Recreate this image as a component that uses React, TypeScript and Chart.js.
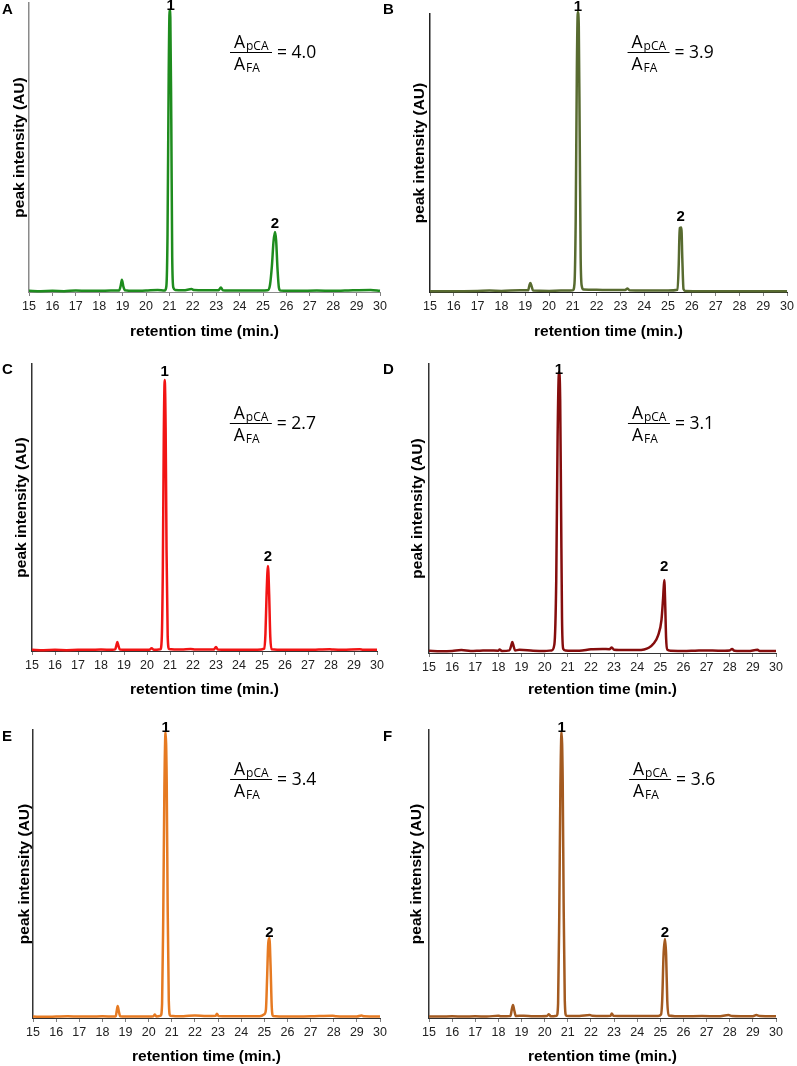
import React, { useEffect, useRef } from "react";
import { Chart, registerables } from "chart.js";

Chart.register(...registerables);

// ---------- data ----------
const retentionTicks = [15, 16, 17, 18, 19, 20, 21, 22, 23, 24, 25, 26, 27, 28, 29, 30];
const panelLetters = ["A", "B", "C", "D", "E", "F"];
const ratioValues = ["4.0", "3.9", "2.7", "3.1", "3.4", "3.6"];

type Pt = [number, number];

const traceA: Pt[] = [
  [15, 0.4], [15.5, 0.3], [16, 0.4], [16.5, 0.3], [17, 0.5], [17.5, 0.4], [18, 0.4], [18.5, 0.5],
  [18.85, 0.5], [18.92, 2.2], [18.97, 4.2], [19.03, 2.0], [19.1, 0.6], [19.5, 0.4], [20, 0.5],
  [20.5, 0.7], [20.8, 0.5], [20.87, 2], [20.92, 20], [20.97, 75], [21.01, 97.6], [21.04, 95],
  [21.08, 60], [21.12, 12], [21.17, 1.5], [21.25, 0.7], [21.6, 0.6], [21.95, 1.0], [22.05, 0.7],
  [22.5, 0.6], [23.1, 0.6], [23.2, 1.6], [23.28, 0.6], [23.8, 0.5], [24.5, 0.5], [25.2, 0.6],
  [25.3, 2.5], [25.38, 9], [25.45, 17.5], [25.51, 20.8], [25.56, 18], [25.62, 8], [25.68, 1.5],
  [25.75, 0.5], [26.5, 0.4], [27.3, 0.5], [28, 0.4], [28.5, 0.5], [29.6, 0.7], [30, 0.4],
];

const traceB: Pt[] = [
  [15, 0.3], [16, 0.3], [17, 0.4], [17.5, 0.5], [18, 0.4], [18.8, 0.6], [19.12, 0.6], [19.18, 2.5],
  [19.22, 3.2], [19.27, 2.0], [19.33, 0.5], [20, 0.4], [20.5, 0.5], [21.0, 0.6], [21.07, 3],
  [21.12, 25], [21.17, 80], [21.21, 100.7], [21.25, 96], [21.29, 55], [21.33, 12], [21.38, 2],
  [21.45, 0.9], [22, 0.8], [22.5, 0.7], [23.2, 0.7], [23.3, 1.3], [23.38, 0.6], [24, 0.5],
  [25, 0.5], [25.4, 0.8], [25.45, 10], [25.49, 23], [25.56, 23.2], [25.6, 12], [25.65, 1],
  [25.72, 0.4], [26.5, 0.3], [27.5, 0.3], [28.5, 0.3], [29.5, 0.3], [30, 0.3],
];

const traceC: Pt[] = [
  [15, 0.4], [15.5, 0.3], [16, 0.4], [16.5, 0.3], [17, 0.4], [17.5, 0.4], [18, 0.5], [18.5, 0.4],
  [18.62, 0.6], [18.67, 2], [18.71, 3.1], [18.76, 1.8], [18.82, 0.5], [19.5, 0.4], [20.1, 0.4],
  [20.2, 1.0], [20.3, 0.4], [20.58, 0.6], [20.64, 4], [20.69, 30], [20.73, 75], [20.77, 94.4],
  [20.81, 78], [20.85, 35], [20.9, 5], [20.96, 0.7], [21.5, 0.5], [21.9, 0.7], [22.1, 0.5],
  [22.9, 0.5], [23.0, 1.4], [23.08, 0.5], [24, 0.4], [24.8, 0.4], [25.1, 0.8], [25.15, 6],
  [25.2, 20], [25.26, 29.6], [25.31, 20], [25.36, 5], [25.42, 0.6], [26, 0.4], [27, 0.4],
  [27.95, 0.6], [28.1, 0.5], [28.5, 0.4], [29.25, 0.6], [29.4, 0.4], [30, 0.4],
];

const traceD: Pt[] = [
  [15, 0.8], [15.5, 0.6], [16, 0.7], [16.4, 1.0], [16.8, 0.7], [17.2, 0.8], [17.6, 0.9], [18, 0.8],
  [18.05, 1.2], [18.15, 0.7], [18.48, 0.9], [18.55, 2.5], [18.6, 3.8], [18.66, 2.3], [18.72, 0.9],
  [18.9, 1.1], [19.5, 0.8], [20, 0.7], [20.3, 0.9], [20.42, 3], [20.5, 25], [20.56, 75],
  [20.62, 97.2], [20.67, 88], [20.71, 50], [20.75, 12], [20.8, 1.5], [20.9, 0.9], [21.5, 0.8],
  [22, 1.3], [22.5, 1.4], [22.8, 1.3], [22.9, 1.9], [23.0, 1.1], [23.5, 1.0], [24, 1.0],
  [24.3, 1.2], [24.5, 1.8], [24.7, 3.2], [24.9, 6], [25.05, 11.5], [25.12, 19], [25.17, 25.3],
  [25.21, 17], [25.25, 5], [25.3, 1.2], [25.45, 0.8], [26, 0.7], [26.5, 0.8], [27, 0.9],
  [27.5, 0.8], [28.0, 0.9], [28.1, 1.4], [28.2, 0.8], [28.8, 0.7], [29.2, 1.1], [29.3, 0.7], [30, 0.7],
];

const traceE: Pt[] = [
  [15, 0.5], [15.5, 0.4], [16, 0.5], [16.5, 0.6], [17, 0.5], [17.5, 0.5], [18, 0.6], [18.5, 0.5],
  [18.58, 0.7], [18.62, 2.5], [18.66, 4.2], [18.71, 2.3], [18.77, 0.6], [19.3, 0.5], [20, 0.5],
  [20.2, 0.6], [20.27, 1.2], [20.33, 0.5], [20.52, 0.8], [20.58, 5], [20.63, 35], [20.68, 80],
  [20.73, 99.3], [20.78, 82], [20.82, 40], [20.87, 6], [20.93, 0.8], [21.5, 0.6], [22, 0.9],
  [22.5, 0.7], [22.9, 0.8], [22.95, 1.5], [23.02, 0.7], [24, 0.6], [24.8, 0.6], [25.0, 1.3],
  [25.07, 3], [25.12, 14], [25.17, 26], [25.22, 27.8], [25.27, 18], [25.32, 4], [25.38, 0.7],
  [26, 0.5], [27, 0.6], [27.95, 0.8], [28.1, 0.6], [29, 0.5], [29.2, 0.9], [29.3, 0.6], [30, 0.5],
];

const traceF: Pt[] = [
  [15, 0.5], [15.5, 0.5], [16, 0.6], [16.5, 0.5], [17, 0.6], [17.5, 0.5], [18, 0.8], [18.1, 0.6],
  [18.52, 0.7], [18.58, 3], [18.63, 4.5], [18.69, 2.5], [18.75, 0.7], [19.1, 0.8], [19.5, 0.6],
  [20.1, 0.7], [20.18, 1.3], [20.26, 0.6], [20.52, 0.8], [20.58, 5], [20.63, 35], [20.68, 80],
  [20.73, 99.3], [20.78, 82], [20.82, 40], [20.87, 6], [20.93, 0.8], [21.5, 0.7], [21.95, 1.0],
  [22.05, 0.8], [22.5, 0.7], [22.85, 0.8], [22.9, 1.6], [22.97, 0.8], [24, 0.7], [24.9, 0.7],
  [25.03, 1.2], [25.08, 6], [25.14, 22], [25.2, 27.4], [25.25, 22], [25.3, 6], [25.36, 0.9],
  [26, 0.6], [26.8, 0.7], [27.5, 0.6], [27.95, 1.0], [28.1, 0.7], [29, 0.6], [29.15, 1.0],
  [29.3, 0.7], [30, 0.6],
];

const traces = [traceA, traceB, traceC, traceD, traceE, traceF];

// peak label anchors (retention time, intensity) for peaks "1" and "2"
const peak1X = [21.05, 21.21, 20.77, 20.62, 20.73, 20.73];
const peak1LabelY = [99, 102.5, 97.2, 97.9, 100.7, 100.7];
const peak2X = [25.51, 25.53, 25.26, 25.17, 25.22, 25.2];
const peak2LabelY = [23.5, 27, 32.8, 29.8, 29.5, 29.5];

// ratio annotation anchor (fraction bar left end)
const fracX = [23.59, 23.3, 23.6, 23.6, 23.52, 23.65];
const fracY = [83, 86.3, 79.4, 79.6, 83, 83];

// ---------- styles / layout ----------
const lineColors = ["#1e8c1e", "#586b30", "#f21414", "#850d0d", "#e67a22", "#a35a20"];
const axisColors = ["#8a8a8a", "#222", "#333", "#333", "#333", "#333"];

interface Geo {
  left: number; top: number; w: number; h: number;
  padTop: number; padRight: number; yW: number; xH: number;
  yTitlePad: number; xTitlePad: number; letterX: number; letterY: number;
}

const geos: Geo[] = [
  { left: 0, top: 0, w: 395, h: 345, padTop: 3, padRight: 15, yW: 29, xH: 53, yTitlePad: 10.7, xTitlePad: 3.7, letterX: 2, letterY: 10 },
  { left: 380, top: 0, w: 417, h: 345, padTop: 14, padRight: 7, yW: 50, xH: 53, yTitlePad: 30.7, xTitlePad: 3.7, letterX: 3, letterY: 10 },
  { left: 0, top: 345, w: 395, h: 360, padTop: 19, padRight: 18, yW: 32, xH: 54, yTitlePad: 12.7, xTitlePad: 5.7, letterX: 2, letterY: 25 },
  { left: 380, top: 345, w: 417, h: 360, padTop: 19, padRight: 21, yW: 49, xH: 52, yTitlePad: 28.7, xTitlePad: 5.7, letterX: 3, letterY: 25 },
  { left: 0, top: 705, w: 395, h: 361, padTop: 25, padRight: 15, yW: 33, xH: 48, yTitlePad: 15.7, xTitlePad: 0, letterX: 2, letterY: 32 },
  { left: 380, top: 705, w: 417, h: 361, padTop: 25, padRight: 21, yW: 49, xH: 48, yTitlePad: 27.7, xTitlePad: 0, letterX: 3, letterY: 32 },
];

const SANS = "Arial, 'Liberation Sans', sans-serif";
const FRAC = "'Open Sans', 'DejaVu Sans', sans-serif";

const annotPlugin = {
  id: "annot",
  afterDatasetsDraw(chart: any, _args: any, opts: any) {
    const { ctx } = chart;
    const x = chart.scales.x;
    const y = chart.scales.y;
    ctx.save();
    ctx.fillStyle = "#000";
    // panel letter
    ctx.font = `bold 15px ${SANS}`;
    ctx.textAlign = "left";
    ctx.textBaseline = "middle";
    ctx.fillText(opts.letter, opts.letterX, opts.letterY);
    // peak numbers
    ctx.font = `bold 15px ${SANS}`;
    ctx.textAlign = "center";
    ctx.fillText("1", x.getPixelForValue(opts.p1x), y.getPixelForValue(opts.p1y));
    ctx.fillText("2", x.getPixelForValue(opts.p2x), y.getPixelForValue(opts.p2y));
    // ratio fraction
    const px = x.getPixelForValue(opts.fx);
    const py = y.getPixelForValue(opts.fy);
    ctx.textAlign = "left";
    ctx.textBaseline = "alphabetic";
    ctx.font = `17.5px ${FRAC}`;
    ctx.fillText("A", px + 4, py - 4);
    ctx.fillText("A", px + 4, py + 18);
    ctx.font = `12px ${FRAC}`;
    ctx.fillText("pCA", px + 16, py - 2);
    ctx.fillText("FA", px + 16, py + 20);
    ctx.strokeStyle = "#000";
    ctx.lineWidth = 1;
    ctx.beginPath();
    ctx.moveTo(px, Math.round(py) + 0.5);
    ctx.lineTo(px + 42, Math.round(py) + 0.5);
    ctx.stroke();
    ctx.font = `17.5px ${FRAC}`;
    ctx.textBaseline = "middle";
    ctx.fillText(`= ${opts.ratio}`, px + 47, py + 1);
    ctx.restore();
  },
};

function Panel({ i }: { i: number }) {
  const ref = useRef<HTMLCanvasElement>(null);
  const g = geos[i];
  useEffect(() => {
    if (!ref.current) return;
    const chart = new Chart(ref.current, {
      type: "line",
      data: {
        datasets: [
          {
            data: traces[i].map(([x, y]) => ({ x, y })),
            borderColor: lineColors[i],
            borderWidth: 2.5,
            pointRadius: 0,
            fill: false,
            cubicInterpolationMode: "monotone",
            clip: false as any,
          },
        ],
      },
      options: {
        responsive: false,
        animation: false,
        events: [],
        layout: { padding: { top: g.padTop, right: g.padRight, left: 0, bottom: 0 } },
        plugins: {
          legend: { display: false },
          tooltip: { enabled: false },
          annot: {
            letter: panelLetters[i],
            letterX: g.letterX,
            letterY: g.letterY,
            p1x: peak1X[i],
            p1y: peak1LabelY[i],
            p2x: peak2X[i],
            p2y: peak2LabelY[i],
            fx: fracX[i],
            fy: fracY[i],
            ratio: ratioValues[i],
          },
        } as any,
        scales: {
          x: {
            type: "linear",
            min: retentionTicks[0],
            max: retentionTicks[retentionTicks.length - 1],
            afterBuildTicks: (s: any) => {
              s.ticks = retentionTicks.map((v) => ({ value: v }));
            },
            afterFit: (s: any) => {
              s.height = g.xH;
            },
            ticks: {
              autoSkip: false,
              maxRotation: 0,
              minRotation: 0,
              padding: 3,
              color: "#222",
              font: { family: SANS, size: 12.5 },
            },
            grid: {
              display: true,
              drawOnChartArea: false,
              drawTicks: true,
              tickLength: 4,
              color: "#808080",
            },
            border: { display: true, color: axisColors[i], width: 1 },
            title: {
              display: true,
              text: "retention time (min.)",
              color: "#000",
              font: { family: SANS, size: 15.5, weight: "bold" },
              padding: { top: 0, bottom: g.xTitlePad },
            },
          },
          y: {
            type: "linear",
            min: 0,
            max: 100,
            afterFit: (s: any) => {
              s.width = g.yW;
            },
            ticks: { display: false },
            grid: { display: false },
            border: { display: true, color: axisColors[i], width: 1.5 },
            title: {
              display: true,
              text: "peak intensity (AU)",
              color: "#000",
              font: { family: SANS, size: 15.5, weight: "bold" },
              padding: { top: g.yTitlePad, bottom: 0 },
            },
          },
        },
      } as any,
      plugins: [annotPlugin],
    });
    return () => chart.destroy();
  }, []);
  return (
    <canvas
      ref={ref}
      width={g.w}
      height={g.h}
      style={{ position: "absolute", left: g.left, top: g.top, width: g.w, height: g.h }}
    />
  );
}

export default function App() {
  useEffect(() => {
    document.body.style.margin = "0";
  }, []);
  return (
    <div style={{ position: "absolute", left: 0, top: 0, width: 797, height: 1066, background: "#fff", overflow: "hidden" }}>
      {[0, 1, 2, 3, 4, 5].map((i) => (
        <Panel key={i} i={i} />
      ))}
    </div>
  );
}
